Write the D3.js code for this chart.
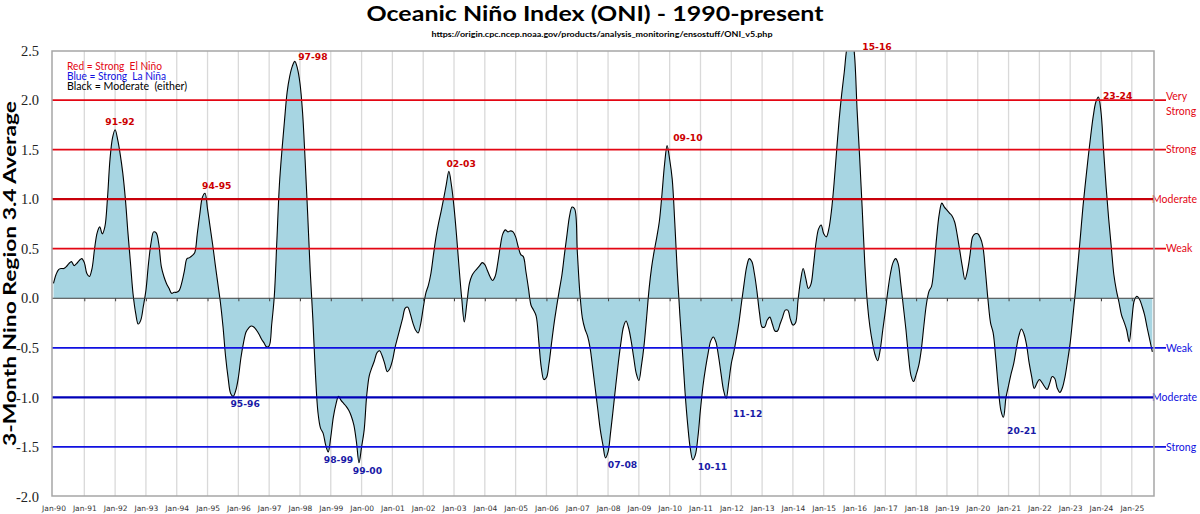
<!DOCTYPE html>
<html>
<head>
<meta charset="utf-8">
<title>Oceanic Niño Index (ONI) - 1990-present</title>
<script src="https://cdn.jsdelivr.net/npm/d3@7/dist/d3.min.js"></script>
<style>
  html, body { margin: 0; padding: 0; background: #fff; }
  #chart { width: 1200px; height: 514px; }
  svg { display: block; }
</style>
</head>
<body>
<div id="chart"></div>
<script>
// ONI (3-month mean, Nino 3.4) - one value per month from Jan-1990
const oni1990s = [
  0.15, 0.24, 0.29, 0.30, 0.30, 0.32, 0.35, 0.37, 0.33, 0.35, 0.38, 0.40,
  0.36, 0.25, 0.22, 0.30, 0.50, 0.66, 0.72, 0.65, 0.72, 1.00, 1.40, 1.62,
  1.70, 1.60, 1.45, 1.26, 1.00, 0.66, 0.35, 0.04, -0.15, -0.26, -0.22, -0.08,
  0.08, 0.35, 0.56, 0.67, 0.66, 0.55, 0.32, 0.22, 0.15, 0.10, 0.05, 0.06,
  0.06, 0.08, 0.16, 0.28, 0.40, 0.41, 0.43, 0.46, 0.65, 0.85, 1.02, 1.06,
  0.90, 0.72, 0.54, 0.34, 0.15, -0.04, -0.28, -0.58, -0.80, -0.96, -0.99, -0.93,
  -0.80, -0.60, -0.45, -0.34, -0.30, -0.28, -0.29, -0.32, -0.36, -0.41, -0.45, -0.49,
  -0.48, -0.26, 0.02, 0.58, 1.15, 1.50, 1.80, 2.08, 2.24, 2.34, 2.39, 2.32,
  2.17, 1.88, 1.40, 0.85, 0.27, -0.20, -0.75, -1.15, -1.31, -1.36, -1.48, -1.55,
  -1.40, -1.20, -1.07, -0.99, -1.03, -1.06, -1.09, -1.13, -1.19, -1.28, -1.45, -1.66
];
const oni2000s = [
  -1.50, -1.33, -0.98, -0.78, -0.70, -0.63, -0.55, -0.53, -0.58, -0.66, -0.74, -0.71,
  -0.63, -0.50, -0.40, -0.30, -0.20, -0.10, -0.09, -0.16, -0.25, -0.32, -0.35, -0.26,
  -0.10, 0.05, 0.13, 0.25, 0.44, 0.62, 0.76, 0.88, 1.01, 1.15, 1.28, 1.14,
  0.92, 0.63, 0.30, 0.00, -0.24, -0.05, 0.15, 0.23, 0.27, 0.30, 0.33, 0.36,
  0.34, 0.28, 0.22, 0.18, 0.22, 0.35, 0.52, 0.65, 0.69, 0.67, 0.68, 0.67,
  0.62, 0.52, 0.44, 0.42, 0.27, 0.10, -0.07, -0.12, -0.18, -0.43, -0.70, -0.82,
  -0.80, -0.66, -0.45, -0.25, -0.08, 0.08, 0.23, 0.44, 0.64, 0.83, 0.92, 0.90,
  0.48, 0.06, -0.20, -0.31, -0.38, -0.50, -0.70, -0.91, -1.12, -1.33, -1.48, -1.61,
  -1.55, -1.35, -1.12, -0.88, -0.65, -0.45, -0.29, -0.23, -0.30, -0.43, -0.60, -0.76,
  -0.83, -0.68, -0.48, -0.20, 0.10, 0.32, 0.48, 0.62, 0.78, 1.05, 1.35, 1.54
];
const oni2010s = [
  1.40, 1.20, 0.76, 0.25, -0.18, -0.55, -0.95, -1.27, -1.51, -1.63, -1.58, -1.40,
  -1.12, -0.88, -0.70, -0.55, -0.43, -0.39, -0.44, -0.58, -0.76, -0.93, -1.01, -0.85,
  -0.66, -0.54, -0.40, -0.24, -0.04, 0.15, 0.32, 0.40, 0.37, 0.25, 0.07, -0.15,
  -0.29, -0.29, -0.22, -0.19, -0.26, -0.33, -0.33, -0.26, -0.19, -0.12, -0.12, -0.21,
  -0.27, -0.25, -0.02, 0.18, 0.30, 0.20, 0.10, 0.14, 0.33, 0.56, 0.70, 0.74,
  0.65, 0.62, 0.70, 0.88, 1.15, 1.48, 1.80, 2.06, 2.28, 2.52, 2.62, 2.64,
  2.45, 1.90, 1.42, 0.90, 0.35, -0.05, -0.29, -0.45, -0.57, -0.63, -0.52, -0.32,
  -0.13, 0.08, 0.25, 0.36, 0.40, 0.35, 0.15, -0.08, -0.31, -0.58, -0.78, -0.84,
  -0.77, -0.68, -0.52, -0.28, -0.06, 0.07, 0.12, 0.33, 0.62, 0.85, 0.96, 0.92,
  0.89, 0.86, 0.83, 0.77, 0.64, 0.48, 0.32, 0.19, 0.28, 0.44, 0.62, 0.65
];
const oni2020s = [
  0.65, 0.61, 0.52, 0.27, -0.02, -0.25, -0.35, -0.60, -0.90, -1.13, -1.20, -1.00,
  -0.88, -0.76, -0.66, -0.51, -0.38, -0.31, -0.36, -0.47, -0.65, -0.79, -0.91, -0.86,
  -0.82, -0.85, -0.89, -0.92, -0.86, -0.79, -0.81, -0.91, -0.95, -0.90, -0.79, -0.63,
  -0.45, -0.20, 0.06, 0.34, 0.63, 0.93, 1.18, 1.42, 1.64, 1.84, 1.98, 2.03,
  1.88, 1.50, 1.12, 0.80, 0.52, 0.24, 0.08, -0.04, -0.17, -0.24, -0.32, -0.44,
  -0.22, -0.02, 0.02, -0.01, -0.08, -0.17, -0.30, -0.42, -0.54
];

const firstYear = 1990;
const tickYears = d3.range(1990, 2026);
const yTicks = [-2.0, -1.5, -1.0, -0.5, 0.0, 0.5, 1.0, 1.5, 2.0, 2.5];

// strength thresholds (red = El Nino side, blue = La Nina side)
const levels = [2.0, 1.5, 1.0, 0.5, -0.5, -1.0, -1.5];
const levelNames = ["Very|Strong", "Strong", "Moderate", "Weak", "Weak", "Moderate", "Strong"];

// event labels, anchored in data units (decimal year, index value)
const eventNames = ["91-92", "94-95", "97-98", "02-03", "09-10", "15-16", "23-24",
                    "95-96", "98-99", "99-00", "07-08", "10-11", "11-12", "20-21"];
const eventYears = [1992.16, 1995.30, 1998.42, 2003.23, 2010.59, 2016.73, 2024.54,
                    1996.22, 1999.25, 2000.19, 2008.47, 2011.39, 2012.53, 2021.43];
const eventValues = [1.78, 1.14, 2.44, 1.36, 1.62, 2.54, 2.04,
                     -1.06, -1.63, -1.74, -1.68, -1.70, -1.17, -1.34];

const legendLines = ["Red = Strong  El Niño", "Blue = Strong  La Niña", "Black = Moderate  (either)"];

(function () {
  const W = 1200, H = 514;
  const plot = { left: 52, top: 51, right: 1154, bottom: 496 };
  const RED = "#e30613", BLUE = "#1010e0";

  const series = [...oni1990s, ...oni2000s, ...oni2010s, ...oni2020s]
    .map((v, i) => ({ t: firstYear + i / 12, v }));

  const svg = d3.select("#chart").append("svg")
    .attr("width", W).attr("height", H)
    .style("font-family", "Lato, 'DejaVu Sans', sans-serif");

  // --- Scales ---
  const x = d3.scaleLinear().domain([1990, 2025]).range([53.5, 1131.8]);
  const y = d3.scaleLinear().domain([-2, 2.5]).range([496.5, 50.5]);

  svg.append("defs").append("clipPath").attr("id", "plot-clip")
    .append("rect")
    .attr("x", plot.left).attr("y", plot.top)
    .attr("width", plot.right - plot.left).attr("height", plot.bottom - plot.top);

  // --- Vertical grid (every January) ---
  svg.append("g").selectAll("line")
    .data(tickYears.slice(1))
    .join("line")
    .attr("x1", d => x(d)).attr("x2", d => x(d))
    .attr("y1", plot.top).attr("y2", plot.bottom)
    .attr("stroke", "#d9d9d9").attr("stroke-width", 1.3);

  // --- Area ---
  const curve = d3.curveCatmullRom.alpha(0.5);
  const area = d3.area().x(d => x(d.t)).y0(y(0)).y1(d => y(d.v)).curve(curve);
  const line = d3.line().x(d => x(d.t)).y(d => y(d.v)).curve(curve);

  const g = svg.append("g").attr("clip-path", "url(#plot-clip)");
  g.append("path").datum(series)
    .attr("d", area)
    .attr("fill", "#a7d5e2");

  // --- Zero line with small ticks ---
  const zeroAxis = svg.append("g")
    .attr("transform", `translate(0,${y(0)})`)
    .call(d3.axisBottom(x).tickValues(tickYears.slice(1)).tickSize(3).tickFormat(""));
  zeroAxis.select(".domain").attr("d", `M${plot.left},0H${plot.right}`).attr("stroke", "#404040");
  zeroAxis.selectAll(".tick line").attr("stroke", "#404040");

  // --- Threshold lines ---
  levels.forEach((lv, i) => {
    const moderate = Math.abs(lv) === 1;
    const col = lv > 0 ? RED : BLUE;
    svg.append("line")
      .attr("x1", plot.left).attr("x2", moderate ? plot.right : 1166)
      .attr("y1", y(lv)).attr("y2", y(lv))
      .attr("stroke", moderate ? (lv > 0 ? "#c8000a" : "#0000b8") : col)
      .attr("stroke-width", moderate ? 2.2 : 1.7);

    const parts = levelNames[i].split("|");
    const t = svg.append("text")
      .attr("x", moderate ? 1152 : 1166)
      .attr("y", y(lv) + (parts.length > 1 ? -4 : 0))
      .attr("fill", col)
      .style("font-size", "10.5px");
    parts.forEach((p, k) => {
      t.append("tspan")
        .attr("x", moderate ? 1152 : 1166)
        .attr("dy", k === 0 ? "0.35em" : "1.45em")
        .text(p);
    });
  });

  // --- Curve outline ---
  g.append("path").datum(series)
    .attr("d", line)
    .attr("fill", "none")
    .attr("stroke", "#000")
    .attr("stroke-width", 1.1);

  // --- Plot frame ---
  svg.append("rect")
    .attr("x", plot.left).attr("y", plot.top)
    .attr("width", plot.right - plot.left).attr("height", plot.bottom - plot.top)
    .attr("fill", "none").attr("stroke", "#a6a6a6").attr("stroke-width", 1.5);

  // --- Axes ---
  const yAxis = svg.append("g")
    .attr("transform", "translate(40,0)")
    .call(d3.axisLeft(y).tickValues(yTicks).tickSize(0).tickPadding(1)
      .tickFormat(d => d.toFixed(1)));
  yAxis.select(".domain").remove();
  yAxis.selectAll("text")
    .style("font-family", "'Liberation Serif', 'DejaVu Serif', serif")
    .style("font-size", "14.5px")
    .attr("fill", "#222");

  const xAxis = svg.append("g")
    .attr("transform", `translate(0,${plot.bottom})`)
    .call(d3.axisBottom(x).tickValues(tickYears).tickSize(0).tickPadding(9.5)
      .tickFormat(d => "Jan-" + String(d).slice(2)));
  xAxis.select(".domain").remove();
  xAxis.selectAll("text")
    .style("font-family", "'DejaVu Sans', sans-serif")
    .style("font-size", "7.5px")
    .attr("fill", "#333");

  // Label axe Y
  svg.append("text")
    .attr("transform", "translate(16,273.5) rotate(-90)")
    .attr("text-anchor", "middle")
    .attr("textLength", 345).attr("lengthAdjust", "spacingAndGlyphs")
    .style("font-size", "16.5px").style("font-weight", "700")
    .text("3-Month Nino Region 3.4 Average");

  // --- Legend (top left) ---
  const legendColors = [RED, BLUE, "#000"];
  const legendWidths = [95, 99, 120];
  legendLines.forEach((s, i) => {
    svg.append("text")
      .attr("x", 67).attr("y", 66 + i * 10).attr("dy", "0.35em")
      .attr("fill", legendColors[i])
      .attr("textLength", legendWidths[i]).attr("lengthAdjust", "spacingAndGlyphs")
      .style("font-size", "10.5px").style("white-space", "pre")
      .text(s);
  });

  // --- Event labels ---
  svg.append("g").selectAll("text")
    .data(eventNames)
    .join("text")
    .attr("x", (d, i) => x(eventYears[i]))
    .attr("y", (d, i) => y(eventValues[i]))
    .attr("dy", "0.35em")
    .attr("text-anchor", "middle")
    .attr("fill", (d, i) => eventValues[i] > 0 ? "#cc0000" : "#1a1aa6")
    .style("font-family", "'DejaVu Sans', sans-serif")
    .style("font-size", "9.2px").style("font-weight", "700")
    .text(d => d);

  // --- Title ---
  svg.append("text")
    .attr("x", 595).attr("y", 21)
    .attr("text-anchor", "middle")
    .attr("textLength", 457).attr("lengthAdjust", "spacingAndGlyphs")
    .style("font-size", "21px").style("font-weight", "700")
    .text("Oceanic Niño Index (ONI) - 1990-present");

  svg.append("text")
    .attr("x", 602).attr("y", 36.5)
    .attr("text-anchor", "middle")
    .attr("textLength", 341).attr("lengthAdjust", "spacingAndGlyphs")
    .style("font-size", "7.5px").style("font-weight", "700")
    .text("https://origin.cpc.ncep.noaa.gov/products/analysis_monitoring/ensostuff/ONI_v5.php");
})();
</script>
</body>
</html>
